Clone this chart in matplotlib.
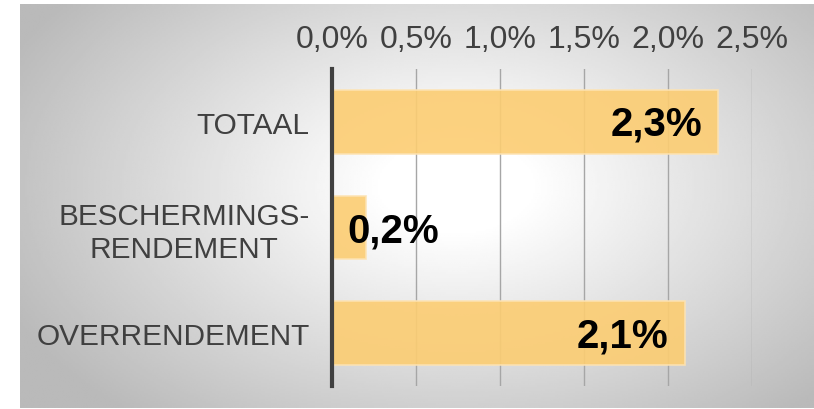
import numpy as np
import matplotlib

matplotlib.use("Agg")
import matplotlib.pyplot as plt

# Data
categories = ["TOTAAL", "BESCHERMINGS-\nRENDEMENT", "OVERRENDEMENT"]
values = [2.3, 0.2, 2.1]
value_labels = ["2,3%", "0,2%", "2,1%"]
xticks = [0.0, 0.5, 1.0, 1.5, 2.0, 2.5]
xtick_labels = ["0,0%", "0,5%", "1,0%", "1,5%", "2,0%", "2,5%"]

W, H = 814, 410
plt.rcParams["font.family"] = ["Liberation Sans", "DejaVu Sans"]
fig = plt.figure(figsize=(W / 100, H / 100), dpi=100, facecolor="white")

# Radial gradient background panel
bx0, by0, bx1, by1 = 20, 5, 814, 409
bg = fig.add_axes([bx0 / W, 1 - by1 / H, (bx1 - bx0) / W, (by1 - by0) / H])
gx, gy = np.meshgrid(np.linspace(0, 1, 400), np.linspace(0, 1, 200))
r = np.sqrt(((gx - 0.55) / 0.62) ** 2 + ((gy - 0.45) / 0.75) ** 2)
shade = np.clip(1.0 - 0.27 * np.clip(r - 0.15, 0, None) / 0.85, 0.73, 1.0)
bg.imshow(shade, cmap="gray", vmin=0, vmax=1, aspect="auto", extent=[0, 1, 1, 0])
bg.axis("off")

# Main plot axes: x 332..752 px, y 70..387 px
ax = fig.add_axes([332 / W, 1 - 387 / H, (752 - 332) / W, (387 - 70) / H])
ax.patch.set_alpha(0)
y = np.arange(len(categories))
ax.barh(y, values, height=0.6, color="#fccd72", alpha=0.9,
        edgecolor="#fde3b3", linewidth=1.2, zorder=3)
ax.set_xlim(0, 2.5)
ax.set_ylim(2.5, -0.5)
ax.set_xticks(xticks)
ax.set_xticklabels(xtick_labels, fontsize=23, color="#404040")
ax.xaxis.tick_top()
ax.tick_params(axis="x", length=0, pad=11)
ax.set_yticks(y)
ax.set_yticklabels(categories, fontsize=21.4, color="#404040", linespacing=1.2)
for t in ax.get_yticklabels():
    t.set_multialignment("center")
ax.tick_params(axis="y", length=0, pad=16)
ax.grid(axis="x", color="#a6a6a6", linewidth=1, zorder=1)
for s in ["top", "right", "bottom"]:
    ax.spines[s].set_visible(False)
ax.spines["left"].set_color("#404040")
ax.spines["left"].set_linewidth(3)
ax.spines["left"].set_zorder(5)

for yi, v, lab in zip(y, values, value_labels):
    if v > 0.5:
        ax.text(v - 0.095, yi + 0.02, lab, ha="right", va="center", fontsize=29,
                fontweight="bold", color="black", zorder=6)
    else:
        ax.text(0.09, yi + 0.03, lab, ha="left", va="center", fontsize=29,
                fontweight="bold", color="black", zorder=6)

fig.savefig("out.png", dpi=100, facecolor="white")
